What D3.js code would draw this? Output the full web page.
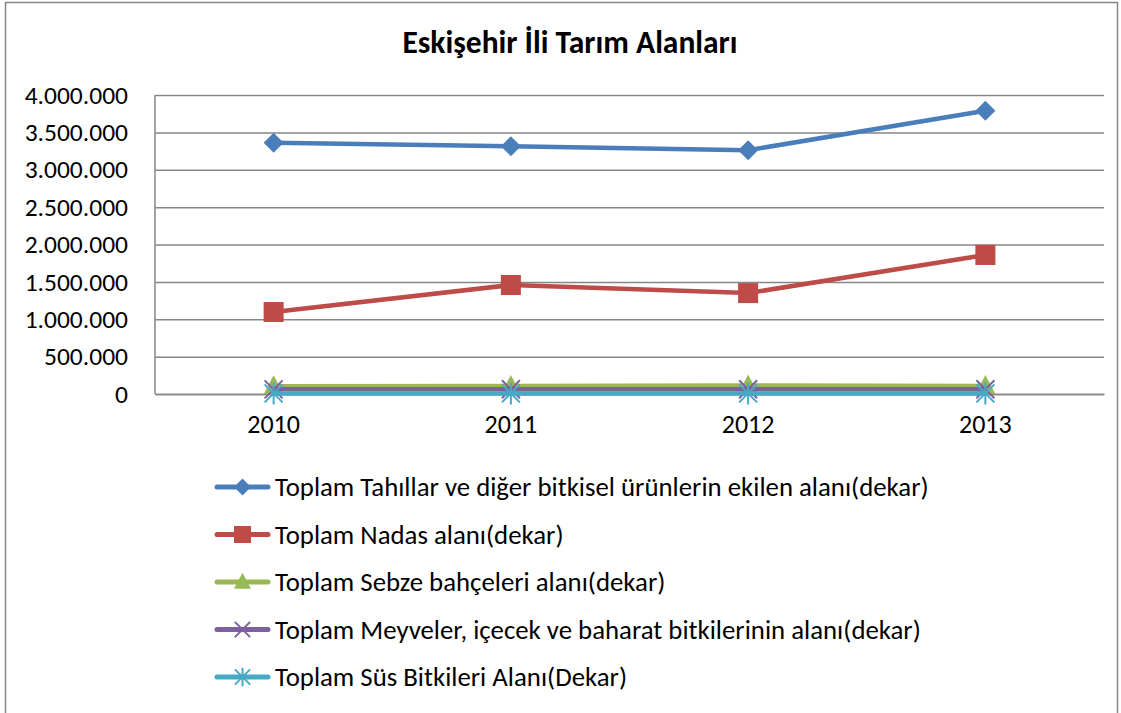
<!DOCTYPE html>
<html>
<head>
<meta charset="utf-8">
<script src="https://cdn.jsdelivr.net/npm/d3@7"></script>
<style>
  body { margin: 0; background: #fff; }
  svg { display: block; font-family: Carlito, Calibri, Lato, sans-serif; }
</style>
</head>
<body>
<div id="chart"></div>
<script>
const years = ['2010', '2011', '2012', '2013'];
const yTicks = [0, 500000, 1000000, 1500000, 2000000, 2500000, 3000000, 3500000, 4000000];
const seriesNames = [
  'Toplam Tahıllar ve diğer bitkisel ürünlerin ekilen alanı(dekar)',
  'Toplam Nadas alanı(dekar)',
  'Toplam Sebze bahçeleri alanı(dekar)',
  'Toplam Meyveler, içecek ve baharat bitkilerinin alanı(dekar)',
  'Toplam Süs Bitkileri Alanı(Dekar)'
];
const tahil = [3360000, 3315000, 3262000, 3790000];
const nadas = [1097000, 1458000, 1350000, 1860000];
const sebze = [105000, 108000, 115000, 108000];
const meyve = [62000, 63000, 64000, 64000];
const sus = [8000, 8000, 8000, 8000];
const seriesValues = [tahil, nadas, sebze, meyve, sus];
const colors = ['#4A7EBB', '#BE4B48', '#98B954', '#7D60A0', '#46AAC5'];
const markers = ['diamond', 'square', 'triangle', 'x', 'star'];

const W = 1121, H = 713;
const margin = { top: 95, right: 17, bottom: 319, left: 155 };
const width = W - margin.left - margin.right,
  height = H - margin.top - margin.bottom;

const svg = d3.select('#chart')
  .append('svg')
  .attr('width', W)
  .attr('height', H);

// outer chart border
svg.append('rect')
  .attr('x', 5.5).attr('y', 2.5)
  .attr('width', 1112).attr('height', 730)
  .attr('fill', '#fff')
  .attr('stroke', '#868686')
  .attr('stroke-width', 1.5);

// title
svg.append('text')
  .attr('x', 570).attr('y', 53)
  .attr('text-anchor', 'middle')
  .style('font-size', '31.5px')
  .style('font-weight', 'bold')
  .text('Eskişehir İli Tarım Alanları');

const g = svg.append('g')
  .attr('transform', `translate(${margin.left},${margin.top})`);

const x = d3.scaleBand().domain(years).range([0, width]);
const y = d3.scaleLinear().domain([0, 4000000]).range([height, 0]);
const fmt = (d) => d3.format(',')(d).replace(/,/g, '.');

// gridlines + y labels
g.append('g')
  .call(d3.axisLeft(y).tickValues(yTicks).tickSize(-width).tickPadding(27).tickFormat(fmt))
  .call((a) => a.select('.domain').remove())
  .call((a) => a.selectAll('.tick line').attr('stroke', '#868686').attr('stroke-width', 1.5))
  .call((a) => a.selectAll('text').style('font-size', '25.5px').attr('fill', '#000')
    .style('font-family', 'Carlito, Calibri, Lato, sans-serif'));

// vertical axis line
g.append('line')
  .attr('x1', 0).attr('x2', 0).attr('y1', 0).attr('y2', height)
  .attr('stroke', '#868686').attr('stroke-width', 1.5);

// x axis
g.append('g')
  .attr('transform', `translate(0,${height})`)
  .call(d3.axisBottom(x).tickSize(0).tickPadding(21))
  .call((a) => a.select('.domain').attr('stroke', '#868686').attr('stroke-width', 1.5))
  .call((a) => a.selectAll('text').style('font-size', '26px').attr('fill', '#000')
    .style('font-family', 'Carlito, Calibri, Lato, sans-serif'));

function drawMarker(sel, type, color, k) {
  if (type === 'diamond') {
    sel.append('path').attr('d', `M0,${-10 * k}L${10 * k},0L0,${10 * k}L${-10 * k},0Z`).attr('fill', color);
  } else if (type === 'square') {
    sel.append('rect').attr('x', -10 * k).attr('y', -10 * k).attr('width', 20 * k).attr('height', 20 * k).attr('fill', color);
  } else if (type === 'triangle') {
    sel.append('path').attr('d', `M0,${-11 * k}L${10 * k},${8 * k}L${-10 * k},${8 * k}Z`).attr('fill', color);
  } else if (type === 'x') {
    sel.append('path').attr('d', `M${-9 * k},${-9 * k}L${9 * k},${9 * k}M${-9 * k},${9 * k}L${9 * k},${-9 * k}`)
      .attr('stroke', color).attr('stroke-width', 2);
  } else if (type === 'star') {
    sel.append('path').attr('d', `M${-9 * k},${-9 * k}L${9 * k},${9 * k}M${-9 * k},${9 * k}L${9 * k},${-9 * k}M0,${-11 * k}L0,${11 * k}`)
      .attr('stroke', color).attr('stroke-width', 2);
  }
}

const line = d3.line()
  .x((d, i) => x(years[i]) + x.bandwidth() / 2)
  .y((d) => y(d));

seriesValues.forEach((vals, s) => {
  g.append('path')
    .datum(vals)
    .attr('fill', 'none')
    .attr('stroke', colors[s])
    .attr('stroke-width', 4.5)
    .attr('stroke-linejoin', 'round')
    .attr('d', line);
  vals.forEach((v, i) => {
    const m = g.append('g')
      .attr('transform', `translate(${x(years[i]) + x.bandwidth() / 2},${y(v)})`);
    drawMarker(m, markers[s], colors[s], 1);
  });
});

// legend
const legend = svg.append('g').attr('transform', 'translate(215,487)');
seriesNames.forEach((name, s) => {
  const row = legend.append('g').attr('transform', `translate(0,${s * 47.5})`);
  row.append('line')
    .attr('x1', 2).attr('x2', 53).attr('y1', 0).attr('y2', 0)
    .attr('stroke', colors[s]).attr('stroke-width', 5).attr('stroke-linecap', 'round');
  const m = row.append('g').attr('transform', 'translate(27.5,0)');
  drawMarker(m, markers[s], colors[s], 0.85);
  row.append('text')
    .attr('x', 60).attr('y', 9)
    .style('font-size', '26.8px')
    .text(name);
});
</script>
</body>
</html>
